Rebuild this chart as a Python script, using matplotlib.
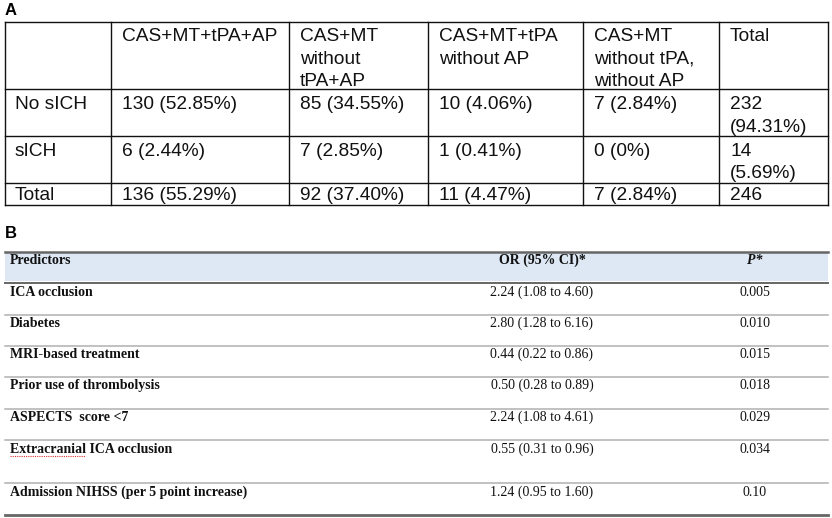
import matplotlib
matplotlib.use('Agg')
from matplotlib import pyplot as plt

# panel A: counts by treatment group
col_headers = ['', 'CAS+MT+tPA+AP', 'CAS+MT\nwithout\ntPA+AP', 'CAS+MT+tPA\nwithout AP',
               'CAS+MT\nwithout tPA,\nwithout AP', 'Total']
row_labels = ['No sICH', 'sICH', 'Total']
cells = [
    ['130 (52.85%)', '85 (34.55%)', '10 (4.06%)', '7 (2.84%)', '232\n(94.31%)'],
    ['6 (2.44%)', '7 (2.85%)', '1 (0.41%)', '0 (0%)', '14\n(5.69%)'],
    ['136 (55.29%)', '92 (37.40%)', '11 (4.47%)', '7 (2.84%)', '246'],
]

# panel B: predictors of sICH
b_headers = ['Predictors', 'OR (95% CI)*', 'P*']
predictors = ['ICA occlusion', 'Diabetes', 'MRI-based treatment', 'Prior use of thrombolysis',
              'ASPECTS  score <7', 'Extracranial ICA occlusion', 'Admission NIHSS (per 5 point increase)']
or_ci = ['2.24 (1.08 to 4.60)', '2.80 (1.28 to 6.16)', '0.44 (0.22 to 0.86)', '0.50 (0.28 to 0.89)',
         '2.24 (1.08 to 4.61)', '0.55 (0.31 to 0.96)', '1.24 (0.95 to 1.60)']
p_values = ['0.005', '0.010', '0.015', '0.018', '0.029', '0.034', '0.10']

SANS = 'Liberation Sans'
SERIF = 'Liberation Serif'

fig = plt.figure(figsize=(8.32, 5.18), dpi=100)
ax = fig.add_axes([0, 0, 1, 1])
ax.set_xlim(0, 832)
ax.set_ylim(518, 0)
ax.axis('off')

# ---- panel A ----
ax.text(5, 15, 'A', family=SANS, weight='bold', fontsize=12, va='baseline')

col_edges = [5, 111, 289, 428, 583, 719, 828]
row_edges = [22, 89, 136, 183, 205]
for x in col_edges:
    ax.plot([x, x], [row_edges[0], row_edges[-1]], color='#111111', lw=1.0)
for y in row_edges:
    ax.plot([col_edges[0], col_edges[-1]], [y, y], color='#111111', lw=1.0)

a_font = dict(family=SANS, fontsize=13.8, color='#111111', va='baseline')
baselines = [41, 109, 156, 200]


def put_lines(x, y, s, **kw):
    for i, line in enumerate(s.split('\n')):
        ax.text(x, y + i * 22.5, line, **kw)


for j, h in enumerate(col_headers):
    put_lines(col_edges[j] + 11, baselines[0], h, **a_font)
for i, lab in enumerate(row_labels):
    put_lines(col_edges[0] + 10, baselines[i + 1], lab, **a_font)
    for j, val in enumerate(cells[i]):
        put_lines(col_edges[j + 1] + 11, baselines[i + 1], val, **a_font)

# ---- panel B ----
ax.text(5, 238, 'B', family=SANS, weight='bold', fontsize=12, va='baseline')

left, right = 5, 828
ax.fill_between([left, right], 253, 281, color='#dde8f4', lw=0)
ax.plot([left, right], [252, 252], color='#666666', lw=1.8)
ax.plot([left, right], [283, 283], color='#666666', lw=1.4)
for y in [315, 346, 377, 409, 440, 483]:
    ax.plot([left, right], [y, y], color='#b0b0b0', lw=1.1)
ax.plot([left, right], [515, 515], color='#666666', lw=2.0)

b_font = dict(family=SERIF, fontsize=10, weight='bold', color='#111111', va='baseline')
n_font = dict(family=SERIF, fontsize=10, color='#111111', va='baseline', ha='center')
or_x, p_x = 542, 755

ax.text(10, 264, b_headers[0], **b_font)
ax.text(or_x, 264, b_headers[1], ha='center', **b_font)
ax.text(p_x, 264, b_headers[2], ha='center', style='italic', **b_font)

row_base = [296, 327, 358, 389, 421, 453, 496]
for y, name, ci, p in zip(row_base, predictors, or_ci, p_values):
    ax.text(10, y, name, **b_font)
    ax.text(or_x, y, ci, **n_font)
    ax.text(p_x, y, p, **n_font)

# spell-check squiggle under "Extracranial"
ax.plot([10, 85], [455.5, 455.5], color='#e03030', lw=0.8, ls=(0, (1, 1)))

fig.savefig('out.png', dpi=100)
